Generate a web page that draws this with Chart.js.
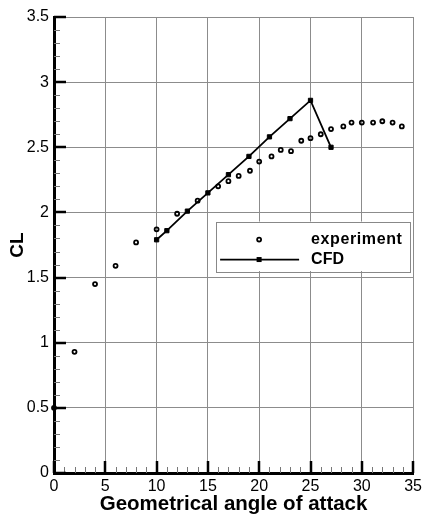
<!DOCTYPE html>
<html>
<head>
<meta charset="utf-8">
<script src="https://cdn.jsdelivr.net/npm/chart.js@4.4.1/dist/chart.umd.min.js"></script>
<style>
  html, body { margin: 0; padding: 0; background: #fff; }
  #wrap { width: 426px; height: 520px; }
</style>
</head>
<body>
<div id="wrap"><canvas id="cl"></canvas></div>
<script>
// Lift coefficient versus geometrical angle of attack
const expAngle = [0, 2, 4, 6, 8, 10, 12, 14, 16, 17, 18, 19.1, 20, 21.2, 22.1, 23.1, 24.1, 25, 26, 27, 28.2, 29, 30, 31.1, 32, 33, 33.9];
const expCL    = [0.50, 0.93, 1.45, 1.59, 1.77, 1.87, 1.99, 2.09, 2.20, 2.24, 2.28, 2.32, 2.39, 2.43, 2.48, 2.47, 2.55, 2.57, 2.60, 2.64, 2.66, 2.69, 2.69, 2.69, 2.70, 2.69, 2.66];

const cfdAngle = [10, 11, 13, 15, 17, 19, 21, 23, 25, 27];
const cfdCL    = [1.79, 1.86, 2.01, 2.15, 2.29, 2.43, 2.58, 2.72, 2.86, 2.50];

const xTicks = [0, 5, 10, 15, 20, 25, 30, 35];
const yTicks = [0, 0.5, 1, 1.5, 2, 2.5, 3, 3.5];
const xMinorStep = 1;
const yMinorStep = 0.1;

const seriesNames = ['experiment', 'CFD'];
const xTitle = 'Geometrical angle of attack';
const yTitle = 'CL';

const FONT = '"Liberation Sans", Arial, Helvetica, sans-serif';

const toPoints = (xs, ys) => xs.map((x, i) => ({ x: x, y: ys[i] }));

// Tecplot-style inward tick marks on the left and bottom axes
const inwardTicks = {
  id: 'inwardTicks',
  beforeDatasetsDraw(chart) {
    const { ctx, chartArea: a, scales: { x, y } } = chart;
    ctx.save();
    // minor ticks
    ctx.strokeStyle = '#777';
    ctx.lineWidth = 1;
    ctx.beginPath();
    for (let v = x.min; v <= x.max + 1e-9; v += xMinorStep) {
      const px = Math.round(x.getPixelForValue(v)) + 0.5;
      ctx.moveTo(px, a.bottom);
      ctx.lineTo(px, a.bottom - 6);
    }
    for (let v = y.min; v <= y.max + 1e-9; v += yMinorStep) {
      const py = Math.round(y.getPixelForValue(v)) + 0.5;
      ctx.moveTo(a.left, py);
      ctx.lineTo(a.left + 6, py);
    }
    ctx.stroke();
    // major ticks
    ctx.strokeStyle = '#000';
    ctx.lineWidth = 2.5;
    ctx.beginPath();
    xTicks.forEach(v => {
      const px = Math.round(x.getPixelForValue(v));
      ctx.moveTo(px, a.bottom);
      ctx.lineTo(px, a.bottom - 12);
    });
    yTicks.forEach(v => {
      const py = Math.round(y.getPixelForValue(v));
      ctx.moveTo(a.left, py);
      ctx.lineTo(a.left + 12, py);
    });
    ctx.stroke();
    ctx.restore();
  }
};

// Boxed legend placed inside the plot area
const boxLegend = {
  id: 'boxLegend',
  afterDatasetsDraw(chart) {
    const { ctx, scales: { x, y } } = chart;
    const left = x.getPixelForValue(15.8), right = x.getPixelForValue(34.7);
    const top = y.getPixelForValue(1.93), bottom = y.getPixelForValue(1.55);
    ctx.save();
    ctx.fillStyle = '#fff';
    ctx.fillRect(left, top, right - left, bottom - top);
    ctx.strokeStyle = '#888';
    ctx.lineWidth = 1;
    ctx.strokeRect(Math.round(left) + 0.5, Math.round(top) + 0.5, Math.round(right - left), Math.round(bottom - top));

    const row1 = top + 18;
    const row2 = row1 + 20;
    const markX = left + 43;
    const textX = left + 95;

    const d0 = chart.data.datasets[0];
    ctx.strokeStyle = d0.pointBorderColor;
    ctx.lineWidth = d0.pointBorderWidth;
    ctx.beginPath();
    ctx.arc(markX, row1, d0.pointRadius, 0, Math.PI * 2);
    ctx.stroke();

    const d1 = chart.data.datasets[1];
    ctx.strokeStyle = d1.borderColor;
    ctx.lineWidth = d1.borderWidth;
    ctx.beginPath();
    ctx.moveTo(left + 4, row2);
    ctx.lineTo(left + 83, row2);
    ctx.stroke();
    ctx.fillStyle = d1.pointBackgroundColor;
    ctx.fillRect(markX - 2.5, row2 - 2.5, 5, 5);

    ctx.fillStyle = '#000';
    ctx.font = 'bold 16px ' + FONT;
    ctx.textBaseline = 'middle';
    ctx.textAlign = 'left';
    ctx.letterSpacing = '0.6px';
    ctx.fillText(seriesNames[0], textX, row1);
    ctx.letterSpacing = '0px';
    ctx.fillText(seriesNames[1], textX, row2);
    ctx.restore();
  }
};

new Chart(document.getElementById('cl'), {
  type: 'scatter',
  data: {
    datasets: [
      {
        label: seriesNames[0],
        data: toPoints(expAngle, expCL),
        showLine: false,
        pointStyle: 'circle',
        pointRadius: 2,
        pointBorderWidth: 1.8,
        pointBorderColor: '#000',
        pointBackgroundColor: 'rgba(0,0,0,0)',
        clip: false
      },
      {
        label: seriesNames[1],
        data: toPoints(cfdAngle, cfdCL),
        showLine: true,
        borderColor: '#000',
        borderWidth: 1.8,
        pointStyle: 'rect',
        pointRadius: 3,
        pointBorderWidth: 1,
        pointBorderColor: '#000',
        pointBackgroundColor: '#000',
        tension: 0
      }
    ]
  },
  options: {
    responsive: true,
    maintainAspectRatio: false,
    animation: false,
    devicePixelRatio: 1,
    layout: { padding: { top: 17, right: 12, left: 0, bottom: 0 } },
    plugins: {
      legend: { display: false },
      tooltip: { enabled: false }
    },
    scales: {
      x: {
        type: 'linear',
        min: 0, max: 35,
        afterBuildTicks: s => { s.ticks = xTicks.map(v => ({ value: v })); },
        afterFit: s => { s.height = 47; },
        grid: { color: '#8c8c8c', lineWidth: 1, drawTicks: false },
        border: { color: '#000', width: 3 },
        ticks: { color: '#000', padding: 4, maxRotation: 0, font: { family: FONT, size: 16 },
                 callback: v => String(v) },
        title: { display: true, text: xTitle, color: '#000', padding: { top: 0, bottom: 3 },
                 font: { family: FONT, size: 20.5, weight: 'bold' } }
      },
      y: {
        type: 'linear',
        min: 0, max: 3.5,
        afterBuildTicks: s => { s.ticks = yTicks.map(v => ({ value: v })); },
        afterFit: s => { s.width = 54; },
        grid: { color: '#8c8c8c', lineWidth: 1, drawTicks: false },
        border: { color: '#000', width: 3 },
        ticks: { color: '#000', padding: 5, font: { family: FONT, size: 16 },
                 callback: v => String(v) },
        title: { display: true, text: yTitle, color: '#000', padding: { top: 6, bottom: 0 },
                 font: { family: FONT, size: 19, weight: 'bold' } }
      }
    }
  },
  plugins: [inwardTicks, boxLegend]
});
</script>
</body>
</html>
